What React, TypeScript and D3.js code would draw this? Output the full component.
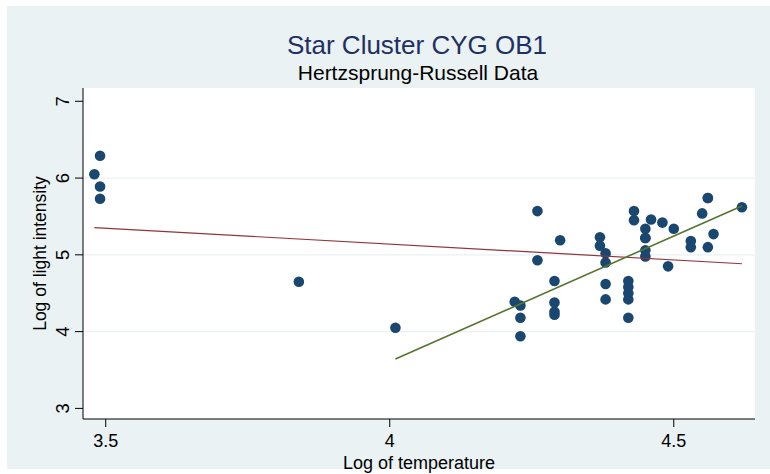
import React from "react";
import * as d3 from "d3";

// Star cluster CYG OB1 (Hertzsprung-Russell data)
const logTemp: number[] = [
  4.37, 4.56, 4.26, 4.56, 4.30, 4.46, 3.84, 4.57, 4.26, 4.37, 3.49, 4.43,
  4.48, 4.01, 4.29, 4.42, 4.23, 4.42, 4.23, 3.49, 4.29, 4.29, 4.42, 4.49,
  4.38, 4.42, 4.29, 4.38, 4.22, 3.48, 4.38, 4.56, 4.45, 3.49, 4.23, 4.62,
  4.53, 4.45, 4.53, 4.43, 4.38, 4.45, 4.50, 4.45, 4.55, 4.45, 4.42,
];
const logLight: number[] = [
  5.23, 5.74, 4.93, 5.74, 5.19, 5.46, 4.65, 5.27, 5.57, 5.12, 5.73, 5.45,
  5.42, 4.05, 4.26, 4.58, 3.94, 4.18, 4.18, 5.89, 4.38, 4.22, 4.42, 4.85,
  5.02, 4.66, 4.66, 4.90, 4.39, 6.05, 4.42, 5.10, 5.22, 6.29, 4.34, 5.62,
  5.10, 5.22, 5.18, 5.57, 4.62, 5.06, 5.34, 5.34, 5.54, 4.98, 4.50,
];
const xTicks: number[] = [3.5, 4, 4.5];
const yTicks: number[] = [3, 4, 5, 6, 7];
const yGrid: number[] = [4, 5, 6];
// robust (main-sequence) fit: intercept, slope, x-range
const robustCoef: number[] = [-9.47, 3.27];
const robustRange: number[] = [4.01, 4.62];

const W = 770;
const H = 474;
const plot = { left: 83, right: 755, top: 88, bottom: 419 };

function ols(xs: number[], ys: number[]) {
  const mx = d3.mean(xs)!;
  const my = d3.mean(ys)!;
  let sxy = 0;
  let sxx = 0;
  xs.forEach((x, i) => {
    sxy += (x - mx) * (ys[i] - my);
    sxx += (x - mx) * (x - mx);
  });
  const b = sxy / sxx;
  return { a: my - b * mx, b, x0: d3.min(xs)!, x1: d3.max(xs)! };
}

export default function App() {
  const x = d3.scaleLinear().domain([3.46, 4.643]).range([plot.left, plot.right]);
  const y = d3.scaleLinear().domain([2.862, 7.173]).range([plot.bottom, plot.top]);

  const all = ols(logTemp, logLight);
  const rob = { a: robustCoef[0], b: robustCoef[1], x0: robustRange[0], x1: robustRange[1] };

  const fitPath = (f: { a: number; b: number; x0: number; x1: number }) =>
    d3.line<[number, number]>().x((d) => x(d[0])).y((d) => y(d[1]))([
      [f.x0, f.a + f.b * f.x0],
      [f.x1, f.a + f.b * f.x1],
    ]);

  const font = "Liberation Sans, Arial, Helvetica, sans-serif";

  return (
    <svg
      width={W}
      height={H}
      style={{ position: "absolute", left: 0, top: 0, background: "#ffffff" }}
      fontFamily={font}
    >
      <rect x={7} y={6} width={W - 7} height={463} fill="#eaf2f3" />
      <rect
        x={plot.left}
        y={plot.top}
        width={plot.right - plot.left}
        height={plot.bottom - plot.top}
        fill="#ffffff"
      />
      {yGrid.map((v) => (
        <line
          key={"g" + v}
          x1={plot.left}
          x2={plot.right}
          y1={y(v)}
          y2={y(v)}
          stroke="#eaf2f3"
          strokeWidth={1.2}
        />
      ))}
      {/* axes */}
      <line x1={plot.left} x2={plot.left} y1={plot.top} y2={plot.bottom} stroke="#000" strokeWidth={1} />
      <line x1={plot.left} x2={plot.right} y1={plot.bottom} y2={plot.bottom} stroke="#000" strokeWidth={1} />
      {yTicks.map((v) => (
        <g key={"y" + v}>
          <line x1={plot.left - 8} x2={plot.left} y1={y(v)} y2={y(v)} stroke="#000" />
          <text
            transform={`translate(${69},${y(v)}) rotate(-90)`}
            textAnchor="middle"
            fontSize={18.5}
            fill="#000"
          >
            {v}
          </text>
        </g>
      ))}
      {xTicks.map((v) => (
        <g key={"x" + v}>
          <line x1={x(v)} x2={x(v)} y1={plot.bottom} y2={plot.bottom + 8} stroke="#000" />
          <text x={x(v)} y={447} textAnchor="middle" fontSize={18} fill="#000">
            {v}
          </text>
        </g>
      ))}
      <text x={(plot.left + plot.right) / 2} y={469} textAnchor="middle" fontSize={18} fill="#000">
        Log of temperature
      </text>
      <text
        transform={`translate(${46},${(plot.top + plot.bottom) / 2}) rotate(-90)`}
        textAnchor="middle"
        fontSize={17.5}
        fill="#000"
      >
        Log of light intensity
      </text>
      <text x={417} y={54} textAnchor="middle" fontSize={26} fill="#1e3064">
        Star Cluster CYG OB1
      </text>
      <text x={418} y={80} textAnchor="middle" fontSize={21} fill="#000">
        Hertzsprung-Russell Data
      </text>
      {/* points */}
      {logTemp.map((t, i) => (
        <circle key={i} cx={x(t)} cy={y(logLight[i])} r={5.3} fill="#1a476f" />
      ))}
      <path d={fitPath(all) || ""} stroke="#90353b" strokeWidth={1.2} fill="none" />
      <path d={fitPath(rob) || ""} stroke="#55752f" strokeWidth={1.6} fill="none" />
    </svg>
  );
}
